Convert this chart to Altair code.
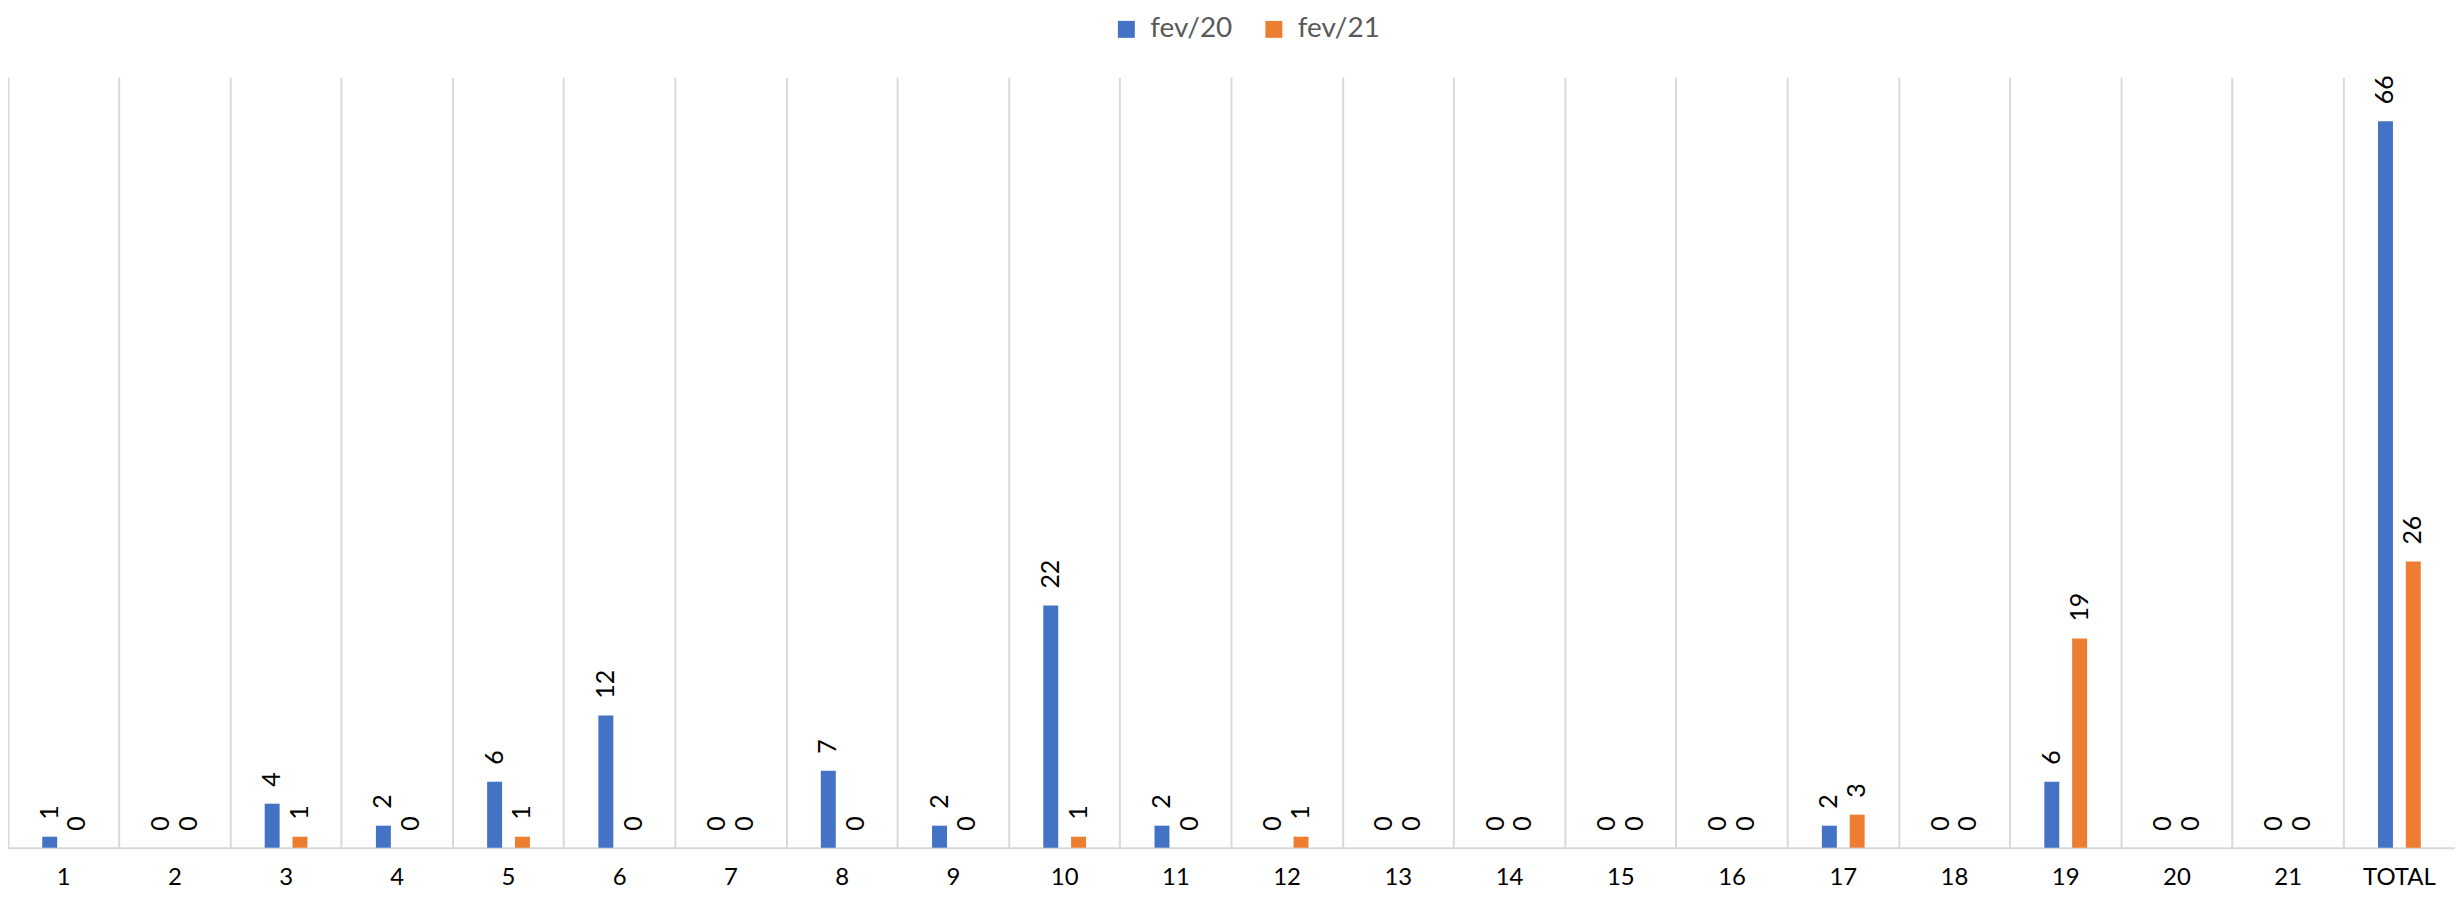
import altair as alt
import pandas as pd

categories = [str(i) for i in range(1, 22)] + ["TOTAL"]
fev20 = [1, 0, 4, 2, 6, 12, 0, 7, 2, 22, 2, 0, 0, 0, 0, 0, 2, 0, 6, 0, 0, 66]
fev21 = [0, 0, 1, 0, 1, 0, 0, 0, 0, 1, 0, 1, 0, 0, 0, 0, 3, 0, 19, 0, 0, 26]
series = ["fev/20", "fev/21"]
colors = ["#4472C4", "#ED7D31"]

rows = []
for c, a, b in zip(categories, fev20, fev21):
    rows.append({"cat": c, "serie": series[0], "v": a})
    rows.append({"cat": c, "serie": series[1], "v": b})
df = pd.DataFrame(rows)

FONT = "Lato"

x = alt.X("cat:N", sort=categories, title=None,
          scale=alt.Scale(paddingInner=0, paddingOuter=0),
          axis=alt.Axis(grid=True, bandPosition=0, gridColor="#d9d9d9", gridWidth=2,
                        ticks=False, domainColor="#d9d9d9", domainWidth=2,
                        labelAngle=0, labelFontSize=24, labelColor="#000000",
                        labelFont=FONT, labelPadding=18))
xo = alt.XOffset("serie:N", sort=series,
                 scale=alt.Scale(paddingInner=0, paddingOuter=1))
y = alt.Y("v:Q", axis=None, scale=alt.Scale(domain=[0, 70], nice=False))

bars = alt.Chart(df).mark_bar(width=15).encode(
    x=x, xOffset=xo, y=y,
    color=alt.Color("serie:N", sort=series,
                    scale=alt.Scale(domain=series, range=colors),
                    legend=alt.Legend(title=None, orient="none", legendX=1108, legendY=-62,
                                      direction="horizontal", symbolType="square",
                                      symbolSize=289, symbolStrokeWidth=0,
                                      labelFontSize=28, labelColor="#595959", labelFont=FONT,
                                      labelOffset=10, columnPadding=27, padding=0)),
)

labels = alt.Chart(df).mark_text(angle=270, align="left", baseline="middle", dx=17,
                                 fontSize=25, font=FONT, color="#000000").encode(
    x=x, xOffset=xo, y=y, text="v:Q"
)

chart = alt.layer(bars, labels).properties(
    width=2455, height=773,
    autosize=alt.AutoSizeParams(type="none"),
    padding={"left": 0, "top": 68, "right": 0, "bottom": 40},
).configure_view(stroke=None)

chart.save("out.html", embed_options={"renderer": "svg", "actions": False})
